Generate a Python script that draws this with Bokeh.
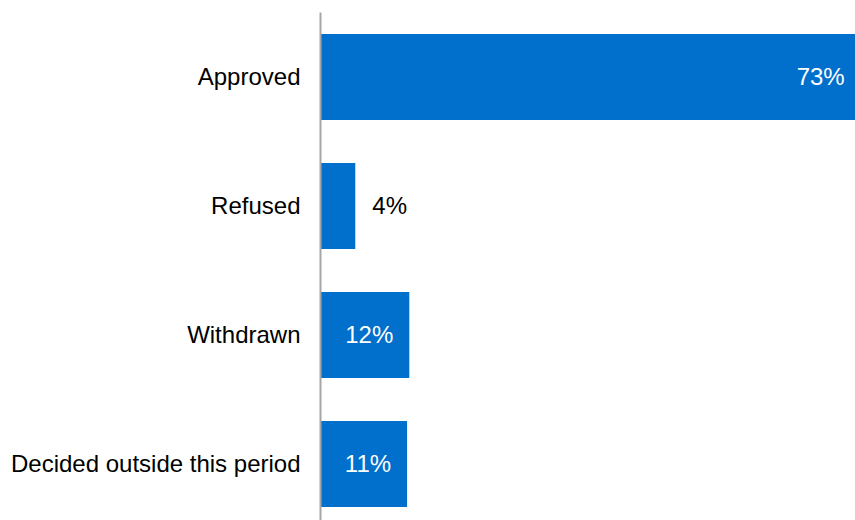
from bokeh.plotting import figure
from bokeh.models import ColumnDataSource, Range1d, FixedTicker
from bokeh.core.properties import value
from bokeh.embed import file_html
from bokeh.resources import INLINE

categories = ["Approved", "Refused", "Withdrawn", "Decided outside this period"]
shares = [73.0, 4.7, 12.0, 11.7]
labels = ["73%", "4%", "12%", "11%"]
inside = [True, False, True, True]

FONT = "Liberation Sans"
BLUE = "#0070CC"

pos = list(range(len(categories)))

p = figure(width=855, height=520, output_backend="svg", toolbar_location=None,
           x_range=Range1d(0, 72.3), y_range=Range1d(3.438, -0.5),
           min_border_left=320, min_border_right=0, min_border_top=12, min_border_bottom=0)
p.outline_line_color = None
p.grid.visible = False
p.xaxis.visible = False

src = ColumnDataSource(dict(y=pos, v=shares))
p.hbar(y="y", left=0, right="v", height=0.667, source=src, color=BLUE, line_color=None)

in_src = ColumnDataSource(dict(
    y=[pos[i] for i in range(len(pos)) if inside[i]],
    v=[shares[i] for i in range(len(pos)) if inside[i]],
    t=[labels[i] for i in range(len(pos)) if inside[i]]))
out_src = ColumnDataSource(dict(
    y=[pos[i] for i in range(len(pos)) if not inside[i]],
    v=[shares[i] for i in range(len(pos)) if not inside[i]],
    t=[labels[i] for i in range(len(pos)) if not inside[i]]))

p.text(x="v", y="y", text="t", source=in_src, x_offset=-16, text_align="right",
       text_baseline="middle", text_color="white", text_font=value(FONT),
       text_font_size="24px")
p.text(x="v", y="y", text="t", source=out_src, x_offset=17, text_align="left",
       text_baseline="middle", text_color="black", text_font=value(FONT),
       text_font_size="24px")

ax = p.yaxis[0]
ax.ticker = FixedTicker(ticks=pos)
ax.major_label_overrides = {i: c for i, c in zip(pos, categories)}
ax.major_tick_line_color = None
ax.major_tick_out = 0
ax.major_tick_in = 0
ax.minor_tick_line_color = None
ax.axis_line_color = "#A6A6A6"
ax.axis_line_width = 2
ax.major_label_standoff = 20
ax.major_label_text_font = FONT
ax.major_label_text_font_size = "24px"
ax.major_label_text_color = "black"

open("out.html", "w").write(file_html(p, INLINE))
